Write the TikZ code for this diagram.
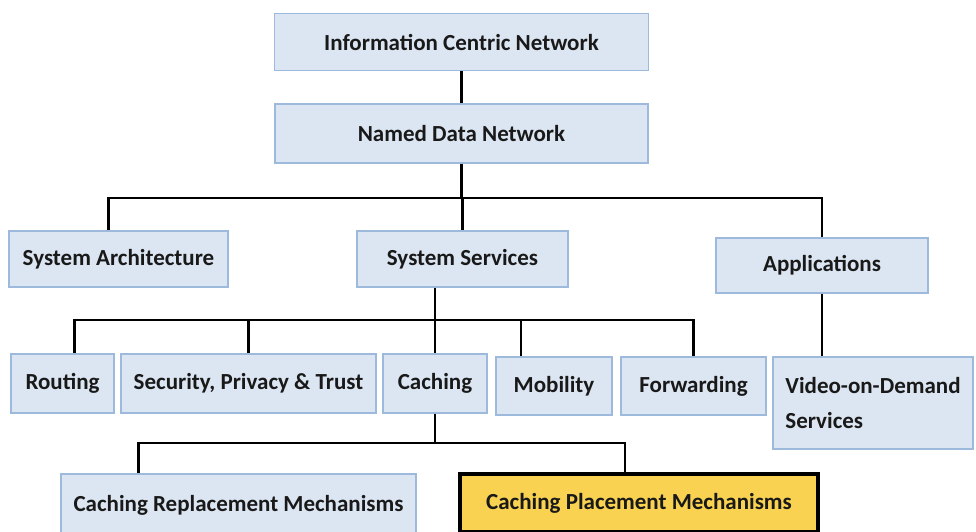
\documentclass[tikz,border=0pt]{standalone}
\usepackage{fontspec}
\setmainfont{Carlito}
\usepackage{tikz}

\definecolor{boxfill}{HTML}{DCE6F2}
\definecolor{boxline}{HTML}{9DB9DC}
\definecolor{markfill}{HTML}{F8D250}

\begin{document}
\begin{tikzpicture}[x=1pt,y=-1pt,
  box/.style={rectangle,draw=boxline,fill=boxfill,line width=1.2pt,inner sep=0pt,
    text=black!90,font=\bfseries\fontsize{23}{35}\selectfont},
  link/.style={draw=black,line width=2.4pt}]
\useasboundingbox (0,0) rectangle (976,531);
\fill[white] (0,0) rectangle (976,531);

\node[box,minimum width=374pt,minimum height=57pt] (icn) at (461.5,42) {Information Centric Network};
\node[box,minimum width=373pt,minimum height=59pt] (ndn) at (461.5,133.5) {Named Data Network};

\node[box,minimum width=219pt,minimum height=56pt] (arch) at (118.5,259) {System Architecture};
\node[box,minimum width=211pt,minimum height=56pt] (serv) at (462.5,259) {System Services};
\node[box,minimum width=212pt,minimum height=55pt] (apps) at (822,265.5) {Applications};

\node[box,minimum width=103pt,minimum height=59pt] (rout) at (62.5,383.5) {Routing};
\node[box,minimum width=255pt,minimum height=59pt] (sec) at (248.5,383.5) {Security, Privacy \& Trust};
\node[box,minimum width=104pt,minimum height=59pt] (cach) at (435,383.5) {Caching};
\node[box,minimum width=116pt,minimum height=58pt] (mob) at (554,386) {Mobility};
\node[box,minimum width=145pt,minimum height=58pt] (fwd) at (693.5,386) {Forwarding};
\node[box,minimum width=200pt,minimum height=92pt,align=left] (vod) at (873,403) {Video-on-Demand\\Services};

\node[box,minimum width=355pt,minimum height=62pt] (repl) at (238.5,505) {Caching Replacement Mechanisms};
\node[box,fill=markfill,draw=black,line width=4pt,minimum width=358pt,minimum height=58pt] (plac) at (639,503) {Caching Placement Mechanisms};

% upper levels
\draw[link] (icn) -- (ndn);
\coordinate (b1) at (0,198);
\draw[link] (ndn.south) -- (ndn.south |- b1);
\draw[link] ([xshift=-10pt]arch.north) |- (apps.north |- b1) -- (apps.north);
\draw[link] (serv.north |- b1) -- (serv.north);

% system services
\coordinate (b2) at (0,320);
\draw[link] (cach.north |- serv.south) -- (cach.north);
\draw[link] ([xshift=12pt]rout.north) |- (fwd.north |- b2) -- (fwd.north);
\draw[link] (sec.north |- b2) -- (sec.north);
\draw[link] ([xshift=-33pt]mob.north |- b2) -- ([xshift=-33pt]mob.north);

% applications
\draw[link] (apps.south) -- (apps.south |- vod.north);

% caching
\coordinate (b3) at (0,443);
\draw[link] (cach.south) -- (cach.south |- b3);
\draw[link] ([xshift=-100pt]repl.north) |- ([xshift=-14pt]plac.north |- b3) -- ([xshift=-14pt]plac.north);
\end{tikzpicture}
\end{document}
